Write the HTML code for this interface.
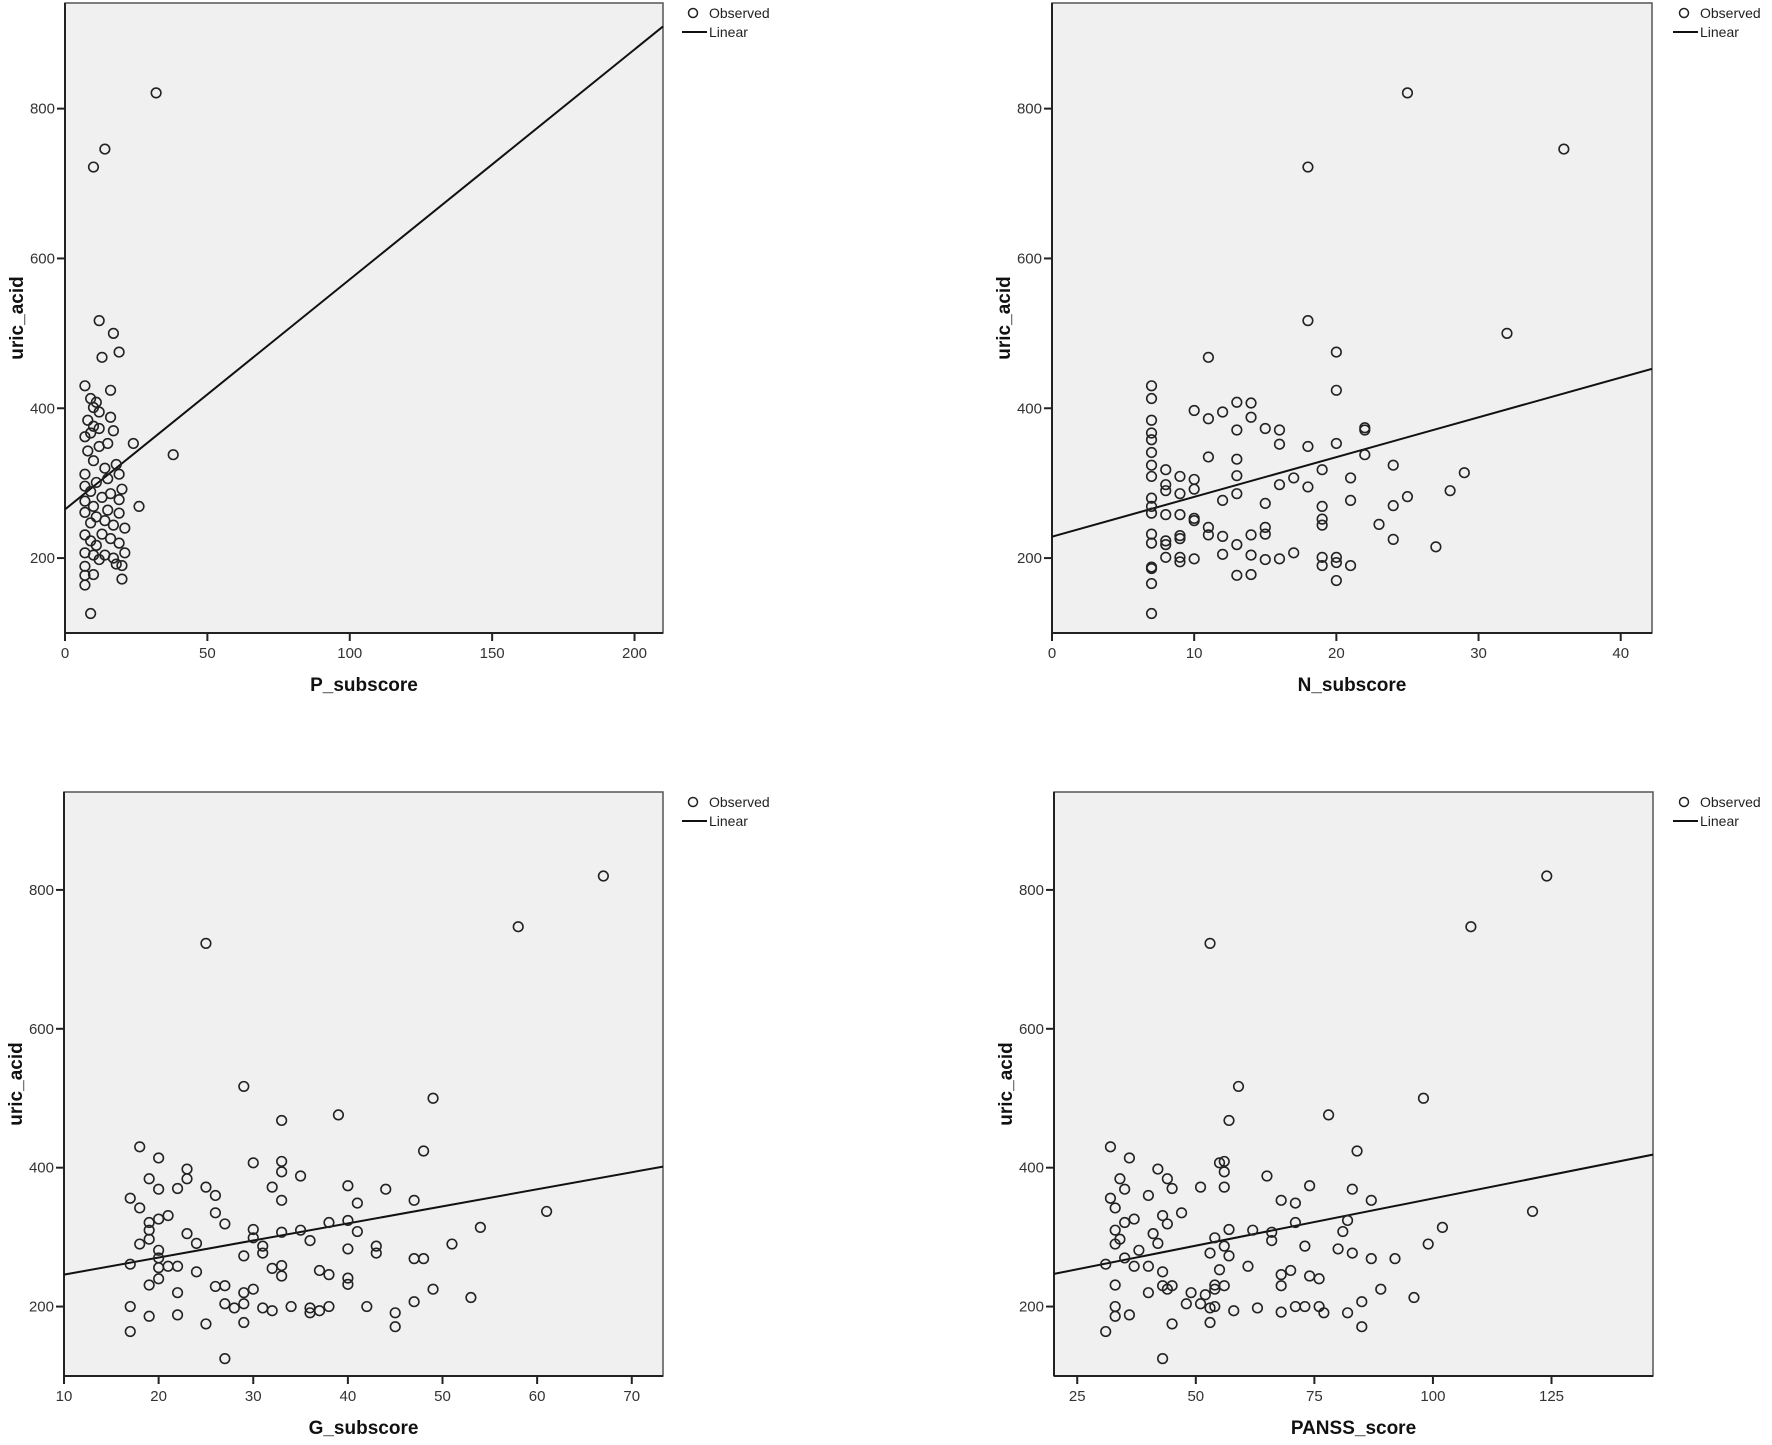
<!DOCTYPE html>
<html><head><meta charset="utf-8"><title>uric_acid scatter plots</title>
<style>
html,body{margin:0;padding:0;background:#fff;}
svg{display:block;font-family:"Liberation Sans",sans-serif;}
.tk{font-size:15px;fill:#333;}
.ttl{font-size:19px;font-weight:bold;fill:#111;}
.lg{font-size:14px;fill:#222;}
</style></head>
<body>
<svg id="chart" width="1772" height="1445" viewBox="0 0 1772 1445" xmlns="http://www.w3.org/2000/svg"></svg>
<script>
const yTicks = [200, 400, 600, 800];
const yDomain = [100, 941];

const pTicks = [0, 50, 100, 150, 200];
const pDomain = [0, 210];
const pX = [32,14,10,12,17,19,13,7,16,9,11,10,12,16,8,10,12,17,9,7,24,15,12,8,38,10,18,14,7,19,15,11,7,20,9,16,13,7,19,26,10,15,7,19,11,14,9,17,21,7,13,16,9,11,19,7,21,14,17,12,10,7,18,20,10,7,7,20,9];
const pY = [821,746,722,517,500,475,468,430,424,413,408,401,395,388,384,376,373,370,367,362,353,353,349,343,338,330,325,320,312,312,306,301,296,292,289,286,281,276,278,269,269,264,261,260,255,250,247,244,240,231,232,226,223,217,220,207,207,204,200,198,204,189,192,190,178,177,164,172,126];
const pFit = [265, 3.07];

const nTicks = [0, 10, 20, 30, 40];
const nDomain = [0, 42.2];
const nX = [25,36,18,18,32,20,11,7,20,7,13,14,10,12,7,11,14,13,15,16,22,22,7,7,18,16,20,7,22,11,13,7,24,8,19,29,7,9,13,17,21,10,8,16,8,10,18,28,9,13,25,7,12,21,7,15,19,24,7,8,9,10,10,19,19,23,11,15,7,11,9,14,15,12,7,8,9,24,8,13,27,12,14,17,8,9,10,15,16,19,20,9,19,20,21,7,7,13,14,20,7,7];
const nY = [821,746,722,517,500,475,468,430,424,413,408,407,397,395,384,386,388,371,373,371,374,371,367,358,349,352,353,341,338,335,332,324,324,318,318,314,309,309,310,307,307,305,298,298,290,292,295,290,286,286,282,280,277,277,269,273,269,270,260,258,258,253,250,252,244,245,241,241,232,231,230,231,232,229,220,223,226,225,218,218,215,205,204,207,201,201,199,198,199,201,201,195,190,194,190,188,186,177,178,170,166,126];
const nFit = [228.6, 5.31];

const gTicks = [10, 20, 30, 40, 50, 60, 70];
const gDomain = [10, 73.3];
const gX = [67,58,25,29,49,39,33,18,48,20,30,33,23,33,19,23,35,25,20,22,32,40,44,26,17,47,33,41,18,26,61,21,20,19,27,38,40,30,35,33,41,19,54,23,19,36,30,18,24,31,43,51,40,20,31,43,29,20,47,48,17,21,22,20,32,33,37,24,33,38,40,20,40,19,26,27,30,49,29,22,53,47,27,29,28,17,31,32,34,36,37,38,42,36,45,22,19,25,29,45,17,27];
const gY = [820,747,723,517,500,476,468,430,424,414,407,409,398,394,384,384,388,372,369,370,372,374,369,360,356,353,353,349,342,335,337,331,326,321,319,321,324,311,310,307,308,310,314,305,297,295,299,290,291,287,287,290,283,281,277,277,273,270,269,269,261,258,258,256,255,259,252,250,244,246,241,240,232,231,229,230,225,225,220,220,213,207,204,204,198,200,198,194,200,198,194,200,200,191,191,188,186,175,177,171,164,125];
const gFit = [221.4, 2.458];

const tTicks = [25, 50, 75, 100, 125];
const tDomain = [20.1, 146.4];
const tX = [124,108,53,59,98,78,57,32,84,36,55,56,42,56,34,44,65,51,35,45,56,74,83,40,32,68,87,71,33,47,121,37,35,44,71,82,43,33,57,62,66,81,102,41,34,54,66,33,42,56,73,99,80,38,57,53,83,35,87,92,31,37,40,61,55,43,70,74,68,76,33,54,56,43,45,68,44,89,54,40,49,52,96,85,48,51,33,53,54,63,71,73,76,58,68,77,82,36,33,45,53,85,31,43];
const tY = [820,747,723,517,500,476,468,430,424,414,407,409,398,394,384,384,388,372,369,370,372,374,369,360,356,353,353,349,342,335,337,326,321,319,321,324,331,310,311,310,307,308,314,305,297,299,295,290,291,287,287,290,283,281,273,277,277,270,269,269,261,258,258,258,253,250,252,244,246,240,231,231,230,230,230,230,225,225,225,220,220,217,213,207,204,204,200,198,200,198,200,200,200,194,192,191,191,188,186,175,177,171,164,125];
const tFit = [219.7, 1.360];

const NS = "http://www.w3.org/2000/svg";
const svg = document.getElementById("chart");
function mk(tag, attrs, parent) {
  const e = document.createElementNS(NS, tag);
  for (const k in attrs) e.setAttribute(k, attrs[k]);
  (parent || svg).appendChild(e);
  return e;
}

function panel(id, box, xDomain, xTicks, xs, ys, fit, xTitle, leg) {
  const g = mk("g", {});
  
  
  const sx = v => box.l + (v - xDomain[0]) / (xDomain[1] - xDomain[0]) * (box.r - box.l);
  const sy = v => box.b - (v - yDomain[0]) / (yDomain[1] - yDomain[0]) * (box.b - box.t);
  const bg = mk("rect", {x: box.l, y: box.t, width: box.r - box.l, height: box.b - box.t, fill: "#f0f0f0", stroke: "#555", "stroke-width": 1.5}, g);
  
  
  mk("line", {x1: box.l, x2: box.r, y1: box.b, y2: box.b, stroke: "#222", "stroke-width": 2}, g);
  mk("line", {x1: box.l, x2: box.l, y1: box.t, y2: box.b, stroke: "#222", "stroke-width": 2}, g);
  yTicks.forEach(v => {
    const y = sy(v);
    mk("line", {x1: box.l - 8, x2: box.l, y1: y, y2: y, stroke: "#222", "stroke-width": 2}, g);
    const t = mk("text", {x: box.l - 10, y: y + 5, "text-anchor": "end", class: "tk"}, g);
    t.textContent = v;
    
    
  });
  xTicks.forEach(v => {
    const x = sx(v);
    mk("line", {x1: x, x2: x, y1: box.b, y2: box.b + 8, stroke: "#222", "stroke-width": 2}, g);
    const t = mk("text", {x: x, y: box.b + 25, "text-anchor": "middle", class: "tk"}, g);
    t.textContent = v;
    
    
  });
  const ln = mk("line", {x1: sx(xDomain[0]), y1: sy(fit[0] + fit[1] * xDomain[0]), x2: sx(xDomain[1]), y2: sy(fit[0] + fit[1] * xDomain[1]), stroke: "#111", "stroke-width": 2}, g);
  
  
  xs.forEach((v, i) => {
    const c = mk("circle", {cx: sx(v), cy: sy(ys[i]), r: 4.8, fill: "none", stroke: "#222", "stroke-width": 1.6}, g);
    
    
  });
  const yt = mk("text", {x: 0, y: 0, "text-anchor": "middle", class: "ttl", transform: "translate(" + (box.l - 42) + "," + ((box.t + box.b) / 2) + ") rotate(-90)"}, g);
  yt.textContent = "uric_acid";
  
  
  const xt = mk("text", {x: (box.l + box.r) / 2, y: box.b + 58, "text-anchor": "middle", class: "ttl"}, g);
  xt.textContent = xTitle;
  
  
  const lc = mk("circle", {cx: leg.x, cy: leg.y, r: 4.5, fill: "none", stroke: "#222", "stroke-width": 1.5}, g);
  
  
  const l1 = mk("text", {x: leg.x + 16, y: leg.y + 5, class: "lg"}, g);
  l1.textContent = "Observed";
  
  
  const ll = mk("line", {x1: leg.x - 11, x2: leg.x + 14, y1: leg.y + 19, y2: leg.y + 19, stroke: "#111", "stroke-width": 2}, g);
  
  
  const l2 = mk("text", {x: leg.x + 16, y: leg.y + 24, class: "lg"}, g);
  l2.textContent = "Linear";
  
  
}

panel("p-subscore", {l: 65, r: 663, t: 3, b: 633}, pDomain, pTicks, pX, pY, pFit, "P_subscore", {x: 693, y: 13});
panel("n-subscore", {l: 1052, r: 1652, t: 3, b: 633}, nDomain, nTicks, nX, nY, nFit, "N_subscore", {x: 1684, y: 13});
panel("g-subscore", {l: 64, r: 663, t: 792, b: 1376}, gDomain, gTicks, gX, gY, gFit, "G_subscore", {x: 693, y: 802});
panel("panss-score", {l: 1054, r: 1653, t: 792, b: 1376}, tDomain, tTicks, tX, tY, tFit, "PANSS_score", {x: 1684, y: 802});
</script>
</body></html>
